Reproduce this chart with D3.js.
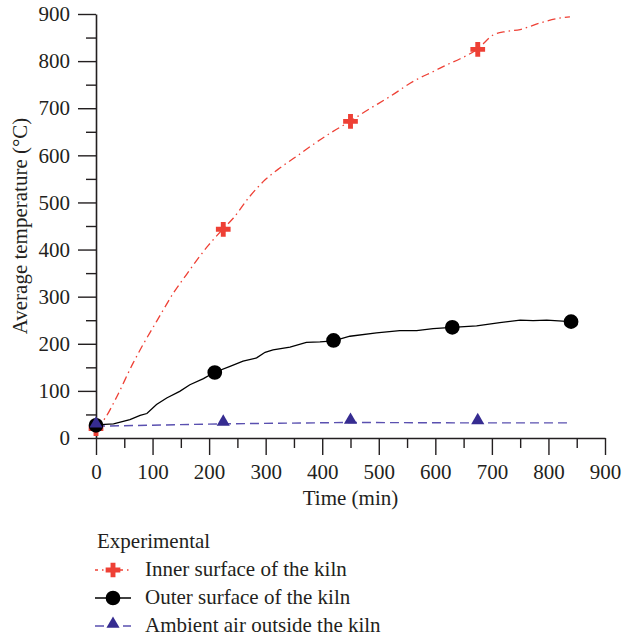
<!DOCTYPE html>
<html>
<head>
<meta charset="utf-8">
<script src="https://cdn.jsdelivr.net/npm/d3@7"></script>
<style>
  body { margin: 0; background: #fff; }
  svg text { font-family: "Liberation Serif", "DejaVu Serif", serif; fill: #231f20; }
</style>
</head>
<body>
<svg id="chart" width="622" height="637"></svg>
<script>
// inner surface of the kiln (red, dash-dot)
var innerT = [0, 16, 34, 66, 84, 101, 119, 137, 160, 178, 196, 224, 243, 272, 299, 325, 355, 384, 414, 449, 476, 520, 561, 600, 620, 644, 675, 703, 726, 750, 785, 814, 838];
var innerV = [20, 42, 81, 160, 200, 235, 272, 308, 347, 377, 405, 443, 467, 513, 548, 573, 598, 623, 647, 672, 693, 725, 757, 780, 792, 805, 826, 856, 863, 867, 881, 890, 894];
var innerMarkT = [0, 225, 450, 675];
var innerMarkV = [20, 443, 672, 825];

// outer surface of the kiln (black, solid)
var outerT = [0, 31, 60, 78, 90, 107, 125, 148, 166, 190, 209, 237, 260, 284, 299, 313, 343, 372, 396, 420, 449, 496, 537, 567, 596, 630, 673, 714, 750, 773, 797, 839];
var outerV = [28, 30, 39, 48, 52, 71, 85, 99, 113, 126, 139, 152, 163, 170, 182, 187, 193, 203, 204, 206, 216, 223, 228, 228, 232, 235, 238, 245, 250, 249, 250, 247];
var outerMarkT = [0, 210, 420, 630, 840];
var outerMarkV = [27, 139, 207, 235, 247];

// ambient air outside the kiln (blue, dashed)
var ambientT = [0, 225, 450, 675, 840];
var ambientV = [25, 30, 33, 32, 32];
var ambientMarkT = [0, 225, 450, 675];
var ambientMarkV = [26, 30, 34, 33];

var xTicks = [0, 100, 200, 300, 400, 500, 600, 700, 800, 900];
var yTicks = [0, 100, 200, 300, 400, 500, 600, 700, 800, 900];
var legendTitle = "Experimental";
var legendLabels = ["Inner surface of the kiln", "Outer surface of the kiln", "Ambient air outside the kiln"];

var red = "#ee4035", blue = "#362c91", blueLine = "#5a50b0", ink = "#231f20";
var serif = "Liberation Serif, DejaVu Serif, serif";

var svg = d3.select("#chart");
var x = d3.scaleLinear().domain([0, 900]).range([96, 605]);
var y = d3.scaleLinear().domain([0, 900]).range([438, 14]);

function zip(a, b) { return a.map(function (d, i) { return [d, b[i]]; }); }

// minor ticks
svg.append("g").attr("transform", "translate(0,438)")
  .call(d3.axisBottom(x).tickValues(d3.range(50, 900, 100)).tickSize(10).tickFormat(""))
  .call(function (g) { g.select(".domain").remove(); });
svg.append("g").attr("transform", "translate(96,0)")
  .call(d3.axisLeft(y).tickValues(d3.range(50, 900, 100)).tickSize(10).tickFormat(""))
  .call(function (g) { g.select(".domain").remove(); });

// major axes
var gx = svg.append("g").attr("transform", "translate(0,438)")
  .call(d3.axisBottom(x).tickValues(xTicks).tickSize(17).tickSizeOuter(0).tickPadding(9));
var gy = svg.append("g").attr("transform", "translate(96,0)")
  .call(d3.axisLeft(y).tickValues(yTicks).tickSize(18).tickSizeOuter(0).tickPadding(8));

svg.selectAll("g").attr("font-family", serif).attr("font-size", 21);
svg.selectAll(".tick line").attr("stroke", ink).attr("stroke-width", 1.4);
svg.selectAll(".domain").attr("stroke", ink).attr("stroke-width", 1.6);
svg.selectAll(".tick text").style("font-family", serif).style("fill", ink);

svg.append("text").attr("x", 350.5).attr("y", 505).attr("text-anchor", "middle")
  .attr("font-size", 21).text("Time (min)");
svg.append("text").attr("transform", "translate(27,226) rotate(-90)").attr("text-anchor", "middle")
  .attr("font-size", 21).text("Average temperature (°C)");

var line = d3.line().x(function (d) { return x(d[0]); }).y(function (d) { return y(d[1]); });

svg.append("path").datum(zip(innerT, innerV)).attr("d", line.curve(d3.curveMonotoneX))
  .attr("fill", "none").attr("stroke", red).attr("stroke-width", 1.3).attr("stroke-dasharray", "8,4,1.5,4");
svg.append("path").datum(zip(outerT, outerV)).attr("d", line.curve(d3.curveLinear))
  .attr("fill", "none").attr("stroke", "#000").attr("stroke-width", 1.3);
svg.append("path").datum(zip(ambientT, ambientV)).attr("d", line.curve(d3.curveLinear))
  .attr("fill", "none").attr("stroke", blueLine).attr("stroke-width", 1.4).attr("stroke-dasharray", "9,5");

var crossSym = d3.symbol().type(d3.symbolCross).size(120);
var circleSym = d3.symbol().type(d3.symbolCircle).size(170);
var triSym = d3.symbol().type(d3.symbolTriangle).size(75);

svg.selectAll(".mi").data(zip(innerMarkT, innerMarkV)).enter().append("path")
  .attr("transform", function (d) { return "translate(" + x(d[0]) + "," + y(d[1]) + ")"; })
  .attr("d", crossSym).attr("fill", red);
svg.selectAll(".mo").data(zip(outerMarkT, outerMarkV)).enter().append("path")
  .attr("transform", function (d) { return "translate(" + x(d[0]) + "," + y(d[1]) + ")"; })
  .attr("d", circleSym).attr("fill", "#000");
svg.selectAll(".ma").data(zip(ambientMarkT, ambientMarkV)).enter().append("path")
  .attr("transform", function (d) { return "translate(" + x(d[0]) + "," + (y(d[1]) - 2) + ")"; })
  .attr("d", triSym).attr("fill", blue);

// legend
svg.append("text").attr("x", 97).attr("y", 548).attr("font-size", 21).text(legendTitle);
var rows = [
  { y: 570, color: red, dash: "3,4,1.5,4", sym: crossSym, fill: red, w: 1.3 },
  { y: 598, color: "#000", dash: null, sym: circleSym, fill: "#000", w: 1.3 },
  { y: 626, color: blueLine, dash: "9,5", sym: triSym, fill: blue, w: 1.4 }
];
rows.forEach(function (r, i) {
  svg.append("line").attr("x1", 95).attr("x2", 131).attr("y1", r.y).attr("y2", r.y)
    .attr("stroke", r.color).attr("stroke-width", r.w).attr("stroke-dasharray", r.dash);
  svg.append("path").attr("transform", "translate(113," + (i === 2 ? r.y - 2 : r.y) + ")")
    .attr("d", r.sym).attr("fill", r.fill);
  svg.append("text").attr("x", 145).attr("y", r.y + 5.5).attr("font-size", 21).text(legendLabels[i]);
});
</script>
</body>
</html>
